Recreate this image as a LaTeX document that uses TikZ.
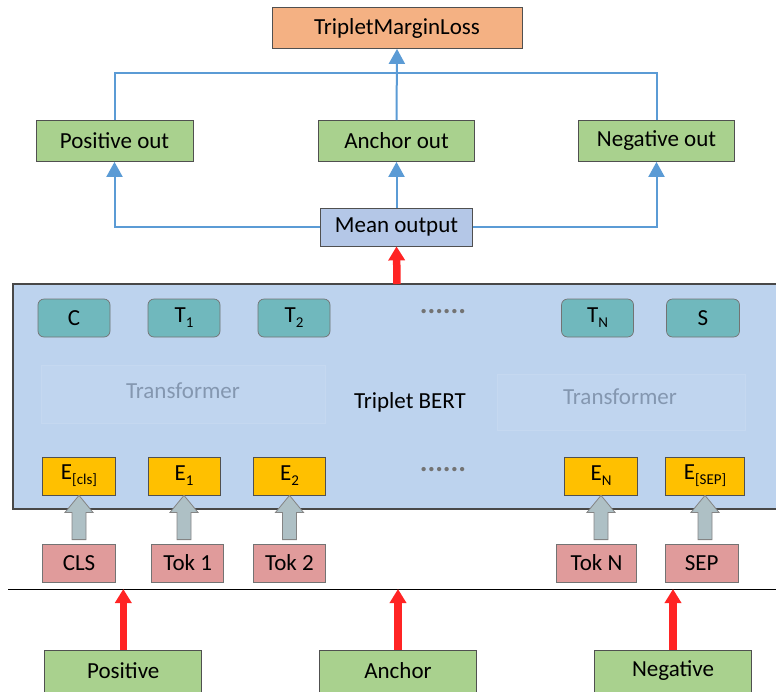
\documentclass[tikz,border=0pt]{standalone}
\usepackage{fontspec}
\setmainfont{Carlito}
\usetikzlibrary{arrows.meta,calc}

\definecolor{boxgreen}{HTML}{A9D18E}
\definecolor{lossorange}{HTML}{F4B183}
\definecolor{meanblue}{HTML}{B4C7E7}
\definecolor{bertblue}{HTML}{BDD3EE}
\definecolor{outteal}{HTML}{70B8BD}
\definecolor{embyellow}{HTML}{FFC000}
\definecolor{tokpink}{HTML}{E09B9B}
\definecolor{arrowgray}{HTML}{AEC0C5}
\definecolor{linkblue}{HTML}{5B9BD5}
\definecolor{inred}{HTML}{FF2424}
\definecolor{transgray}{HTML}{8497B0}
\definecolor{edge}{HTML}{505050}

\newcommand{\sub}[1]{\raisebox{-0.45ex}{\fontsize{15}{17}\selectfont #1}}
% block arrow from a token up to its embedding
\newcommand{\blockup}[2]{%
  \draw[tokarrow] let \p1=(#1), \p2=(#2) in
    (\x1-7pt,\y2+4pt) -- (\x1-7pt,\y1-17pt) -- (\x1-14pt,\y1-17pt) -- (\x1,\y1)
    -- (\x1+14pt,\y1-17pt) -- (\x1+7pt,\y1-17pt) -- (\x1+7pt,\y2+4pt) -- cycle;}

\begin{document}
\begin{tikzpicture}[x=1pt,y=-1pt,
    every node/.style={font=\fontsize{23}{27}\selectfont,inner sep=0pt},
    plainbox/.style={draw=edge,line width=0.8pt,minimum height=41pt},
    greenbox/.style={plainbox,fill=boxgreen},
    outbox/.style={draw=edge!80,line width=0.7pt,fill=outteal,rounded corners=6pt,
      minimum width=72pt,minimum height=38pt},
    embbox/.style={plainbox,fill=embyellow,minimum height=38pt},
    tokbox/.style={plainbox,draw=edge!80,fill=tokpink,minimum height=38pt},
    tokarrow/.style={draw=edge!70,line width=0.8pt,fill=arrowgray,line join=miter},
    trbox/.style={draw=white!12!bertblue,line width=0.8pt,fill=white!5!bertblue},
    link/.style={draw=linkblue,line width=2pt},
    linkarrow/.style={link,-{Triangle[width=16pt,length=15pt]}},
    inarrow/.style={draw=inred,line width=7.5pt,-{Triangle[width=16pt,length=14pt]}},
    dots/.style={text=edge!80,font=\fontsize{29}{31}\selectfont\bfseries}]
  \useasboundingbox (0,0) rectangle (776,691);

  % top part
  \node[plainbox,fill=lossorange,minimum width=250pt] (loss) at (397,28) {TripletMarginLoss};
  \node[greenbox,minimum width=157pt] (posout) at (114.5,141) {Positive out};
  \node[greenbox,minimum width=156pt] (ancout) at (396.5,141) {Anchor out};
  \node[greenbox,minimum width=156pt] (negout) at (656.5,141) {Negative out};
  \node[plainbox,fill=meanblue,minimum width=152pt,minimum height=38pt] (mean) at (396.5,227) {Mean output};
  \coordinate (join) at (396.5,73);

  \draw[linkarrow] (mean.west) -| (posout.south);
  \draw[linkarrow] (mean.east) -| (negout.south);
  \draw[linkarrow] (mean.north) -- (ancout.south);
  \draw[link] (posout.north) |- (join) -| (negout.north);
  \draw[linkarrow] (ancout.north) -- (loss.south);

  % BERT block
  \draw[draw=edge!90!black,line width=1.5pt,fill=bertblue] (13,284) rectangle (782,509);
  \coordinate (berttop) at (397,284);
  \draw[trbox] (41,365) rectangle (325,423);
  \draw[trbox] (497,374) rectangle (745,430);
  \node[text=transgray] (trleft) at (183,391) {Transformer};
  \node[text=transgray] (trright) at (620,397) {Transformer};
  \node (bert) at (410,402) {Triplet BERT};

  \node[outbox] (c) at (74,318) {C};
  \node[outbox] (t1) at (184,318) {T\sub{1}};
  \node[outbox] (t2) at (294,318) {T\sub{2}};
  \node[dots] (odots) at (443,312) {......};
  \node[outbox] (tn) at (597.5,318) {T\sub{N}};
  \node[outbox,minimum width=73pt] (s) at (703,318) {S};

  \node[embbox,minimum width=73pt] (ecls) at (79,476) {E\sub{[cls]}};
  \node[embbox,minimum width=72pt] (e1) at (184,476) {E\sub{1}};
  \node[embbox,minimum width=72pt] (e2) at (289.5,476) {E\sub{2}};
  \node[dots] (edots) at (443,470) {......};
  \node[embbox,minimum width=73pt] (en) at (601,476) {E\sub{N}};
  \node[embbox,minimum width=79pt] (esep) at (705,476) {E\sub{[SEP]}};

  \draw[inarrow] (berttop) -- (mean.south);

  % tokens
  \node[tokbox,minimum width=73pt] (cls) at (79,563) {CLS};
  \node[tokbox,minimum width=72pt] (tok1) at (187.7,563) {Tok 1};
  \node[tokbox,minimum width=72pt] (tok2) at (289.5,563) {Tok 2};
  \node[tokbox,minimum width=80pt] (tokn) at (596.5,563) {Tok N};
  \node[tokbox,minimum width=73pt] (sep) at (701.7,563) {SEP};

  \blockup{ecls.south}{cls.north}
  \blockup{e1.south}{tok1.north}
  \blockup{e2.south}{tok2.north}
  \blockup{en.south}{tokn.north}
  \blockup{esep.south}{sep.north}

  % inputs
  \coordinate (sepl) at (8,589);
  \coordinate (sepr) at (776,589);
  \draw[line width=1pt] (sepl) -- (sepr);

  \node[greenbox,minimum width=157pt,minimum height=42pt] (pos) at (123.3,671) {Positive};
  \node[greenbox,minimum width=157pt,minimum height=42pt] (anc) at (398,671) {Anchor};
  \node[greenbox,minimum width=157pt,minimum height=42pt] (neg) at (673,671) {Negative};

  \draw[inarrow] (pos.north) -- (pos.north |- sepl);
  \draw[inarrow] (anc.north) -- (anc.north |- sepl);
  \draw[inarrow] (neg.north) -- (neg.north |- sepl);
\end{tikzpicture}
\end{document}
